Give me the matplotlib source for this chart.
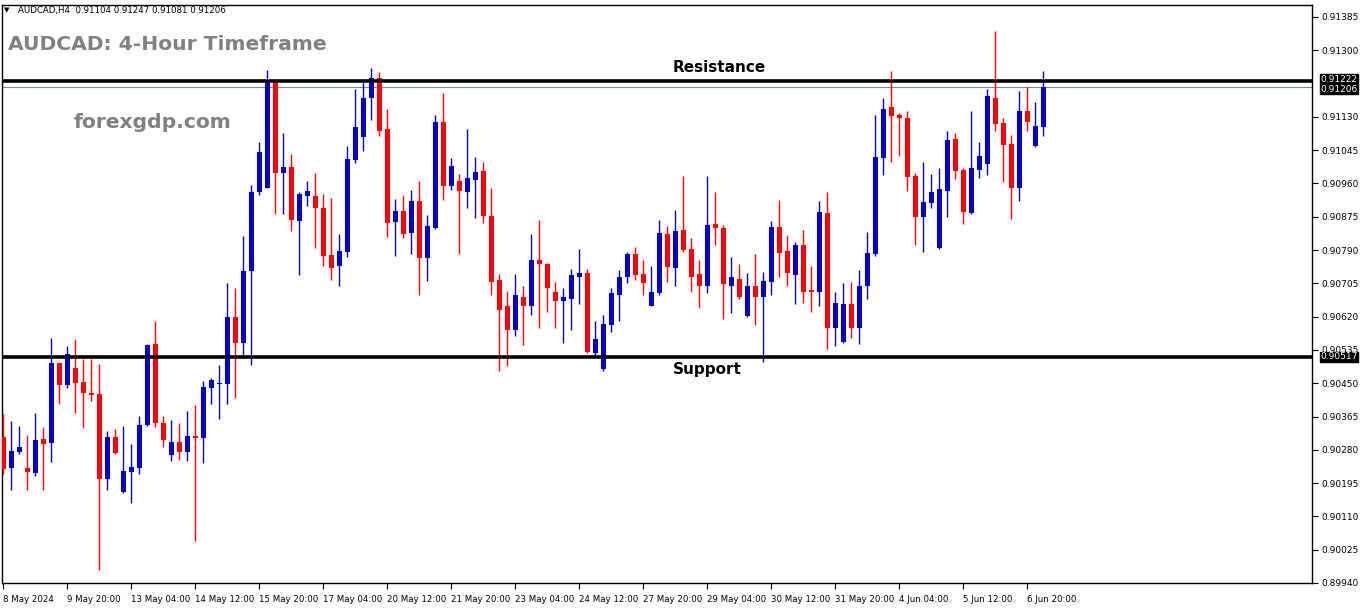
import matplotlib
matplotlib.use("Agg")
import matplotlib.pyplot as plt
import numpy as np

# ---------------- data (AUDCAD H4) ----------------
opens = [0.90313,0.90234,0.90275,0.90234,0.90222,0.90308,0.90298,0.90501,0.90445,0.90488,
         0.90453,0.90425,0.90422,0.90206,0.90313,0.90173,0.90224,0.90234,0.90344,0.90549,
         0.90349,0.90267,0.90300,0.90275,0.90316,0.90311,0.90438,0.90448,0.90448,0.90618,
         0.90552,0.90737,0.90938,0.90948,0.91220,0.90986,0.91001,0.90864,0.90928,0.90928,
         0.90897,0.90778,0.90750,0.90786,0.91019,0.91078,0.91177,0.91228,0.91098,0.90862,
         0.90890,0.90834,0.90915,0.90770,0.90847,0.91118,0.90953,0.90966,0.90938,0.90968,
         0.90991,0.90877,0.90714,0.90646,0.90587,0.90671,0.90646,0.90765,0.90755,0.90684,
         0.90661,0.90666,0.90720,0.90732,0.90526,0.90486,0.90598,0.90676,0.90720,0.90780,
         0.90730,0.90648,0.90681,0.90831,0.90745,0.90841,0.90793,0.90730,0.90697,0.90857,
         0.90847,0.90699,0.90717,0.90621,0.90697,0.90669,0.90709,0.90849,0.90788,0.90725,
         0.90803,0.90689,0.90684,0.90885,0.90592,0.90554,0.90651,0.90590,0.90699,0.90780,
         0.91024,0.91154,0.91134,0.91128,0.90979,0.90874,0.90910,0.90796,0.90940,0.91073,
         0.90994,0.90885,0.90994,0.91009,0.91179,0.91113,0.91060,0.90948,0.91144,0.91055,
         0.91104]
highs = [0.90372,0.90354,0.90341,0.90318,0.90374,0.90338,0.90565,0.90501,0.90544,0.90562,
         0.90511,0.90511,0.90499,0.90328,0.90333,0.90341,0.90295,0.90366,0.90549,0.90610,
         0.90366,0.90356,0.90349,0.90379,0.90394,0.90455,0.90463,0.90496,0.90707,0.90694,
         0.90826,0.90956,0.91065,0.91250,0.91222,0.91090,0.91034,0.90938,0.90966,0.90986,
         0.90933,0.90923,0.90831,0.91055,0.91200,0.91220,0.91255,0.91245,0.91149,0.90920,
         0.90930,0.90943,0.90966,0.90880,0.91134,0.91192,0.91024,0.90984,0.91098,0.91027,
         0.91014,0.90948,0.90730,0.90686,0.90730,0.90699,0.90831,0.90867,0.90758,0.90709,
         0.90692,0.90742,0.90793,0.90742,0.90608,0.90625,0.90694,0.90740,0.90786,0.90798,
         0.90765,0.90750,0.90867,0.90852,0.90892,0.90979,0.90821,0.90765,0.90979,0.90938,
         0.90854,0.90773,0.90755,0.90732,0.90780,0.90735,0.90864,0.90918,0.90829,0.90811,
         0.90841,0.90750,0.90915,0.90938,0.90684,0.90707,0.90709,0.90740,0.90836,0.91134,
         0.91177,0.91248,0.91141,0.91144,0.90986,0.91014,0.90984,0.90999,0.91095,0.91088,
         0.90999,0.91146,0.91065,0.91200,0.91349,0.91128,0.91083,0.91197,0.91205,0.91169,
         0.91247]
lows = [0.90217,0.90178,0.90270,0.90178,0.90214,0.90178,0.90250,0.90397,0.90438,0.90374,
        0.90336,0.90405,0.89973,0.90178,0.90270,0.90171,0.90143,0.90217,0.90341,0.90338,
        0.90288,0.90252,0.90255,0.90252,0.90046,0.90247,0.90397,0.90359,0.90397,0.90412,
        0.90521,0.90496,0.90930,0.90948,0.90882,0.90882,0.90839,0.90725,0.90902,0.90796,
        0.90750,0.90714,0.90697,0.90773,0.91012,0.91042,0.91121,0.91080,0.90824,0.90775,
        0.90821,0.90780,0.90674,0.90712,0.90844,0.90918,0.90943,0.90780,0.90897,0.90872,
        0.90859,0.90676,0.90481,0.90493,0.90570,0.90547,0.90625,0.90590,0.90631,0.90592,
        0.90552,0.90587,0.90651,0.90526,0.90519,0.90481,0.90580,0.90608,0.90707,0.90714,
        0.90676,0.90646,0.90676,0.90709,0.90697,0.90786,0.90684,0.90641,0.90681,0.90803,
        0.90613,0.90628,0.90666,0.90618,0.90598,0.90504,0.90676,0.90720,0.90697,0.90651,
        0.90656,0.90631,0.90646,0.90537,0.90544,0.90552,0.90565,0.90549,0.90664,0.90775,
        0.90981,0.91014,0.91029,0.90940,0.90803,0.90786,0.90897,0.90793,0.90874,0.90971,
        0.90857,0.90882,0.90973,0.90981,0.91095,0.90963,0.90869,0.90915,0.91093,0.91052,
        0.91081]
closes = [0.90232,0.90278,0.90288,0.90224,0.90305,0.90295,0.90501,0.90445,0.90524,0.90450,
          0.90425,0.90420,0.90206,0.90313,0.90272,0.90227,0.90237,0.90344,0.90547,0.90349,
          0.90305,0.90300,0.90275,0.90316,0.90311,0.90440,0.90458,0.90450,0.90618,0.90552,
          0.90737,0.90938,0.91040,0.91220,0.90986,0.91001,0.90867,0.90933,0.90940,0.90897,
          0.90775,0.90745,0.90788,0.91022,0.91103,0.91177,0.91228,0.91093,0.90859,0.90890,
          0.90831,0.90915,0.90770,0.90852,0.91116,0.90953,0.91004,0.90940,0.90973,0.90989,
          0.90877,0.90709,0.90636,0.90587,0.90674,0.90646,0.90765,0.90755,0.90694,0.90659,
          0.90669,0.90727,0.90732,0.90529,0.90562,0.90600,0.90681,0.90722,0.90780,0.90725,
          0.90707,0.90684,0.90834,0.90747,0.90839,0.90791,0.90722,0.90697,0.90854,0.90847,
          0.90702,0.90720,0.90671,0.90697,0.90669,0.90712,0.90849,0.90783,0.90732,0.90803,
          0.90684,0.90684,0.90887,0.90590,0.90656,0.90651,0.90590,0.90699,0.90783,0.91027,
          0.91151,0.91131,0.91126,0.90976,0.90874,0.90913,0.90938,0.90946,0.91070,0.90991,
          0.90887,0.90999,0.91029,0.91182,0.91111,0.91057,0.90948,0.91144,0.91118,0.91106,
          0.91206]

date_labels = ["8 May 2024", "9 May 20:00", "13 May 04:00", "14 May 12:00", "15 May 20:00",
               "17 May 04:00", "20 May 12:00", "21 May 20:00", "23 May 04:00", "24 May 12:00",
               "27 May 20:00", "29 May 04:00", "30 May 12:00", "31 May 20:00", "4 Jun 04:00",
               "5 Jun 12:00", "6 Jun 20:00"]
date_label_every = 8

price_ticks = [0.91385, 0.91300, 0.91130, 0.91045, 0.90960, 0.90875, 0.90790, 0.90705,
               0.90620, 0.90535, 0.90450, 0.90365, 0.90280, 0.90195, 0.90110, 0.90025, 0.89940]

resistance = 0.91222
support = 0.90517
last_price = 0.91206

header = "AUDCAD,H4  0.91104 0.91247 0.91081 0.91206"
title = "AUDCAD: 4-Hour Timeframe"
site = "forexgdp.com"

# ---------------- figure ----------------
W, H = 1362, 611
fig = plt.figure(figsize=(W / 100, H / 100), dpi=100)
fig.patch.set_facecolor("white")
ax_left, ax_right, ax_top, ax_bot = 2, 1312, 5, 583
ax = fig.add_axes([ax_left / W, 1 - ax_bot / H, (ax_right - ax_left) / W, (ax_bot - ax_top) / H])

o = np.array(opens); h = np.array(highs); l = np.array(lows); c = np.array(closes)
x = np.arange(len(o))
up = c >= o
BLUE, RED = "#0000cd", "#ff0000"
cols = np.where(up, BLUE, RED)

px = 0.0000254  # price per pixel
ax.vlines(x, l, h, colors=cols, linewidth=1.0, zorder=3)
bottoms = np.minimum(o, c)
heights = np.maximum(np.abs(c - o), 1.3 * px)
ax.bar(x, heights, bottom=bottoms, width=0.62, color=cols, edgecolor=cols, linewidth=0, zorder=4)

ymin = 0.91385 - 566 * px
ymax = 0.91385 + 12 * px
ax.set_ylim(ymin, ymax)
ax.set_xlim(-0.16, 163.6)

# support / resistance / last price lines
ax.axhline(resistance, color="black", linewidth=2.6, zorder=5)
ax.axhline(support, color="black", linewidth=2.6, zorder=5)
ax.axhline(last_price, color="#778899", linewidth=0.8, zorder=2)

ax.text(89.5, resistance + 6 * px, "Resistance", ha="center", va="bottom",
        fontsize=11, fontweight="bold", color="black", family="DejaVu Sans", zorder=6)
ax.text(88.0, support - 5 * px, "Support", ha="center", va="top",
        fontsize=11, fontweight="bold", color="black", family="DejaVu Sans", zorder=6)

# axes styling
for s in ax.spines.values():
    s.set_color("black")
    s.set_linewidth(1.0)
ax.yaxis.tick_right()
ax.set_yticks(price_ticks)
ax.set_yticklabels([f"{p:.5f}" for p in price_ticks], fontsize=6.5, color="black")
ax.tick_params(axis="y", direction="out", length=4, width=0.8, pad=3, colors="black")

xt = list(range(0, len(o), date_label_every))[:len(date_labels)]
ax.set_xticks(xt)
ax.set_xticklabels(date_labels, fontsize=6.2, ha="left", color="black")
ax.tick_params(axis="x", direction="out", length=4, width=0.8, pad=5, colors="black")
for lab in ax.get_xticklabels():
    lab.set_horizontalalignment("left")

# price boxes on right axis
def price_box(p, dy=0, fg="white", bg="black"):
    ax.annotate(f"{p:.5f}", xy=(1.0, p), xycoords=("axes fraction", "data"),
                xytext=(6, dy), textcoords="offset points", ha="left", va="center",
                fontsize=6.5, color=fg, annotation_clip=False,
                bbox=dict(boxstyle="square,pad=0.05", fc=bg, ec=bg), zorder=10)

price_box(resistance, dy=1.0)
price_box(last_price, dy=-1.5)
price_box(support)

# header and watermark texts
fig.text(4 / W, 1 - 10 / H, "\u25BC", fontsize=5, color="black", va="center", ha="left")
fig.text(18 / W, 1 - 10 / H, header, fontsize=6.2, color="black", va="center", ha="left")
fig.text(8 / W, 1 - 44 / H, title, fontsize=14.6, fontweight="bold", color="#808080",
         va="center", ha="left")
fig.text(74 / W, 1 - 123 / H, site, fontsize=14.6, fontweight="bold", color="#808080",
         va="center", ha="left")

fig.savefig("out.png", dpi=100, facecolor="white")
